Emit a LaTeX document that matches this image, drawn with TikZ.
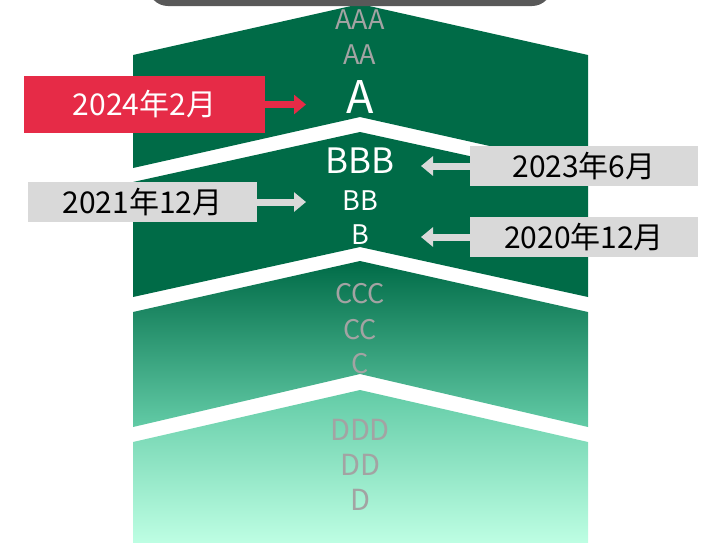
\documentclass[tikz,border=0pt]{standalone}
\usepackage{fontspec}
\setmainfont{Noto Sans CJK JP}
\usetikzlibrary{arrows.meta}
\definecolor{bandgreen}{HTML}{006B47}
\definecolor{midgreen}{HTML}{62CBA6}
\definecolor{mintgreen}{HTML}{BFFFE4}
\definecolor{capgray}{HTML}{595959}
\definecolor{boxgray}{HTML}{D9D9D9}
\definecolor{boxred}{HTML}{E62B47}
\definecolor{rankgray}{HTML}{A3A3A3}
\begin{document}
\begin{tikzpicture}[
  x=1pt, y=-1pt,
  band/.style={fill=bandgreen},
  rank/.style={anchor=base, inner sep=0pt, text=rankgray, font=\fontsize{27}{32}\selectfont},
  current/.style={rank, text=white},
  datebox/.style={fill=boxgray, text=black, inner sep=0pt, minimum width=228pt,
    minimum height=40pt, font=\fontsize{30}{36}\selectfont},
  ptr/.style={draw=boxgray, line width=7pt, -{Triangle[width=19pt,length=12pt]}}
]
\useasboundingbox (0,0) rectangle (711,542);
\clip (0,0) rectangle (711,542);

% chevron bands
\path[band] (133,55) -- (360,4) -- (588,55) -- (588,168) -- (360,117) -- (133,168) -- cycle;
\path[band] (133,182) -- (360,132) -- (588,182) -- (588,297) -- (360,247) -- (133,297) -- cycle;
\shade[top color=bandgreen, bottom color=midgreen]
  (133,312) -- (360,261) -- (588,312) -- (588,427) -- (360,374) -- (133,427) -- cycle;
\shade[top color=midgreen, bottom color=mintgreen]
  (133,442) -- (360,390) -- (588,442) -- (588,545) -- (133,545) -- cycle;

% cap on top
\fill[capgray, rounded corners=20pt] (148,-40) rectangle (552,6);

% ranks
\node[rank] (aaa) at (360,29) {AAA};
\node[rank] (aa) at (360,64) {AA};
\node[current, font=\fontsize{45}{50}\selectfont] (a) at (360,113) {A};
\node[current, font=\fontsize{35}{40}\selectfont] (bbb) at (360,173) {BBB};
\node[current] (bb) at (360,210) {BB};
\node[current] (b) at (360,244) {B};
\node[rank] (ccc) at (360,303) {CCC};
\node[rank] (cc) at (360,339) {CC};
\node[rank] (c) at (360,373) {C};
\node[rank, font=\fontsize{29}{34}\selectfont] (ddd) at (360,440) {DDD};
\node[rank, font=\fontsize{29}{34}\selectfont] (dd) at (360,475) {DD};
\node[rank, font=\fontsize{29}{34}\selectfont] (d) at (360,510) {D};

% dates
\node[datebox, fill=boxred, text=white, minimum width=241pt, minimum height=57pt] (feb24) at (144.5,104.5) {2024年2月};
\node[datebox, minimum width=229pt] (dec21) at (142.5,202) {2021年12月};
\node[datebox] (jun23) at (584,166) {2023年6月};
\node[datebox] (dec20) at (584,237) {2020年12月};

\coordinate (tipa) at (306,104.5);
\coordinate (tipbb) at (306,202);
\coordinate (tipbbb) at (421,166);
\coordinate (tipb) at (421,237);

\draw[ptr, draw=boxred] (feb24.east) -- (tipa);
\draw[ptr] (dec21.east) -- (tipbb);
\draw[ptr] (jun23.west) -- (tipbbb);
\draw[ptr] (dec20.west) -- (tipb);
\end{tikzpicture}
\end{document}
